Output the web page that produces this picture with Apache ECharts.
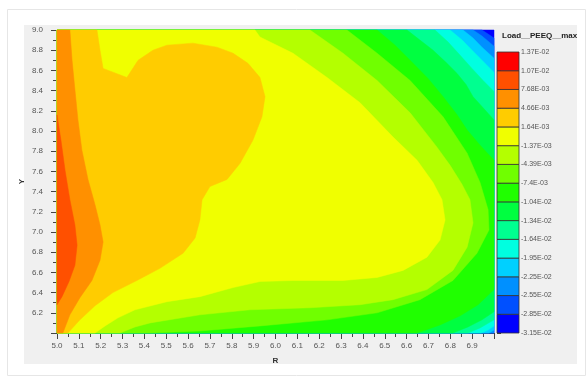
<!DOCTYPE html>
<html>
<head>
<meta charset="utf-8">
<script src="https://cdn.jsdelivr.net/npm/echarts@6/dist/echarts.min.js"></script>
<style>
  html, body { margin: 0; padding: 0; background: #fff; }
  #chart { width: 586px; height: 376px; }
</style>
</head>
<body>
<div id="chart"></div>
<script>
// plot window
const X_MIN = 5.0, X_MAX = 7.0, Y_MIN = 6.0, Y_MAX = 9.0

// colour scale, bottom (lowest) to top
const LEGEND_LABELS = ['1.37E-02', '1.07E-02', '7.68E-03', '4.66E-03', '1.64E-03', '-1.37E-03', '-4.39E-03',
  '-7.4E-03', '-1.04E-02', '-1.34E-02', '-1.64E-02', '-1.95E-02', '-2.25E-02', '-2.55E-02', '-2.85E-02', '-3.15E-02']
const LEVEL_COLORS = ['#0000ff', '#0050ff', '#0090ff', '#00d0ff', '#00ffe0', '#00ff90', '#00ff40', '#20ff00',
  '#70ff00', '#b4ff00', '#f0ff00', '#ffcc00', '#ff9000', '#ff5000', '#ff0000']

// contour edges (R, Y): edge of the region at or above each level
const LEVEL0_EDGE = [[7.0, 9.0]]
const LEVEL1_EDGE = [[6.945, 9.0], [6.973, 8.96], [7.0, 8.92]]
const LEVEL2_EDGE = [[6.904, 9.0], [6.945, 8.94], [7.0, 8.84]]
const LEVEL3_EDGE = [[6.858, 9.0], [6.904, 8.92], [6.945, 8.83], [7.0, 8.72],
  [7.0, 6.03], [6.977, 6.0]]
const LEVEL4_EDGE = [[6.799, 9.0], [6.854, 8.90], [6.904, 8.79], [6.954, 8.68], [7.0, 8.58],
  [7.0, 6.07], [6.973, 6.03], [6.941, 6.0]]
const LEVEL5_EDGE = [[6.730, 9.0], [6.790, 8.88], [6.845, 8.75], [6.899, 8.62], [6.950, 8.50], [7.0, 8.39],
  [7.0, 6.13], [6.936, 6.05], [6.881, 6.0]]
const LEVEL6_EDGE = [[6.602, 9.0], [6.661, 8.90], [6.721, 8.80], [6.780, 8.68], [6.831, 8.57], [6.872, 8.46],
  [6.904, 8.34], [6.950, 8.23], [7.0, 8.11],
  [7.0, 6.21], [6.945, 6.13], [6.881, 6.06], [6.812, 6.0]]
const LEVEL7_EDGE = [[6.465, 9.0], [6.547, 8.85], [6.616, 8.70], [6.698, 8.52], [6.767, 8.34], [6.831, 8.16],
  [6.877, 8.01], [6.936, 7.86], [7.0, 7.71],
  [7.0, 6.43], [6.927, 6.28], [6.845, 6.17], [6.753, 6.08], [6.648, 6.0]]
const LEVEL8_EDGE = [[6.327, 9.0], [6.465, 8.77], [6.616, 8.50], [6.767, 8.14], [6.877, 7.78], [6.936, 7.49],
  [6.973, 7.22], [6.977, 7.02], [6.922, 6.79], [6.812, 6.52], [6.661, 6.33], [6.465, 6.20], [6.236, 6.13],
  [5.929, 6.07], [5.654, 6.02], [5.426, 6.0]]
const LEVEL9_EDGE = [[6.158, 9.0], [6.309, 8.77], [6.465, 8.50], [6.616, 8.18], [6.739, 7.84], [6.799, 7.66],
  [6.854, 7.47], [6.890, 7.32], [6.904, 7.09], [6.877, 6.85], [6.812, 6.62], [6.693, 6.43], [6.538, 6.33],
  [6.387, 6.28], [6.158, 6.25], [5.883, 6.23], [5.654, 6.18], [5.426, 6.10], [5.357, 6.06], [5.288, 6.0]]
const LEVEL10_EDGE = [[5.906, 9.0], [5.929, 8.93], [6.080, 8.77], [6.236, 8.53], [6.387, 8.28], [6.538, 7.94],
  [6.648, 7.71], [6.721, 7.49], [6.762, 7.32], [6.776, 7.12], [6.753, 6.92], [6.693, 6.75], [6.584, 6.62],
  [6.465, 6.55], [6.309, 6.52], [6.080, 6.52], [5.929, 6.51], [5.806, 6.45], [5.654, 6.36], [5.503, 6.31],
  [5.357, 6.23], [5.279, 6.15], [5.220, 6.07], [5.174, 6.0]]
const LEVEL11_EDGE = [[5.183, 9.0], [5.197, 8.80], [5.211, 8.62], [5.320, 8.53], [5.371, 8.70], [5.439, 8.80],
  [5.503, 8.85], [5.622, 8.87], [5.732, 8.83], [5.806, 8.77], [5.874, 8.67], [5.929, 8.53], [5.952, 8.34],
  [5.938, 8.14], [5.897, 7.91], [5.838, 7.68], [5.778, 7.52], [5.700, 7.45], [5.664, 7.32], [5.654, 7.12],
  [5.632, 6.94], [5.577, 6.79], [5.471, 6.64], [5.366, 6.52], [5.256, 6.40], [5.174, 6.27], [5.105, 6.13],
  [5.050, 6.0]]
const LEVEL12_EDGE = [[5.059, 9.0], [5.069, 8.70], [5.082, 8.41], [5.096, 8.11], [5.114, 7.81], [5.142, 7.52],
  [5.174, 7.27], [5.197, 7.07], [5.211, 6.90], [5.197, 6.72], [5.160, 6.52], [5.105, 6.35], [5.059, 6.18],
  [5.027, 6.0]]
const LEVEL13_EDGE = [[5.0, 8.16], [5.018, 7.91], [5.037, 7.61], [5.059, 7.32], [5.082, 7.07], [5.092, 6.87],
  [5.082, 6.67], [5.055, 6.51], [5.023, 6.36], [5.0, 6.28]]

const EDGES = [LEVEL0_EDGE, LEVEL1_EDGE, LEVEL2_EDGE, LEVEL3_EDGE, LEVEL4_EDGE, LEVEL5_EDGE, LEVEL6_EDGE,
  LEVEL7_EDGE, LEVEL8_EDGE, LEVEL9_EDGE, LEVEL10_EDGE, LEVEL11_EDGE, LEVEL12_EDGE, LEVEL13_EDGE]

// close an edge against the plot border (region lies to the left / inside)
function closeRegion(pts) {
  const out = []
  const first = pts[0]
  const last = pts[pts.length - 1]
  if (first[1] === Y_MAX) out.push([X_MIN, Y_MAX])
  out.push(...pts)
  if (last[0] === X_MAX) out.push([X_MAX, Y_MIN])
  if (last[0] !== X_MIN) out.push([X_MIN, Y_MIN])
  return out
}
const REGIONS = EDGES.map(closeRegion)

const chart = echarts.init(document.getElementById('chart'), null, { renderer: 'canvas' })

const labelFont = { fontFamily: 'Liberation Sans, Arial, sans-serif', fontSize: 8, color: '#555' }

chart.setOption({
  animation: false,
  backgroundColor: '#ffffff',
  graphic: [
    { type: 'rect', left: 7, top: 9, shape: { width: 578, height: 366 }, style: { fill: '#fff', stroke: '#e6e6e6' }, z: -10 },
    { type: 'rect', left: 24, top: 25, shape: { width: 553, height: 339 }, style: { fill: '#f0f0f0' }, z: -9 }
  ],
  title: {
    text: 'Load__PEEQ__max',
    left: 497,
    top: 27,
    textStyle: { fontFamily: 'Liberation Sans, Arial, sans-serif', fontSize: 8, fontWeight: 'bold', color: '#222' }
  },
  grid: [
    { left: 57, top: 30, width: 437, height: 303 },
    { left: 497, top: 52, width: 22, height: 281 }
  ],
  xAxis: [
    {
      gridIndex: 0,
      type: 'value',
      min: X_MIN,
      max: X_MAX,
      interval: 0.1,
      name: 'R',
      nameLocation: 'middle',
      nameGap: 24,
      nameMoveOverlap: false,
      nameTextStyle: { fontFamily: 'Liberation Sans, Arial, sans-serif', fontSize: 8, fontWeight: 'bold', color: '#333' },
      axisLine: { lineStyle: { color: '#444', width: 1 } },
      axisTick: { length: 6, lineStyle: { color: '#444' } },
      minorTick: { show: true, splitNumber: 2, length: 4, lineStyle: { color: '#444' } },
      splitLine: { show: false },
      axisLabel: Object.assign({ margin: 9, formatter: v => (v >= X_MAX - 1e-9 ? '' : v.toFixed(1)) }, labelFont)
    },
    { gridIndex: 1, type: 'value', min: 0, max: 1, show: false }
  ],
  yAxis: [
    {
      gridIndex: 0,
      type: 'value',
      min: Y_MIN,
      max: Y_MAX,
      interval: 0.2,
      name: 'Y',
      nameLocation: 'middle',
      nameGap: 31,
      nameMoveOverlap: false,
      nameTextStyle: { fontFamily: 'Liberation Sans, Arial, sans-serif', fontSize: 8, fontWeight: 'bold', color: '#333' },
      axisLine: { show: true, lineStyle: { color: '#444', width: 1 } },
      axisTick: { show: true, length: 6, lineStyle: { color: '#444' } },
      minorTick: { show: true, splitNumber: 2, length: 4, lineStyle: { color: '#444' } },
      splitLine: { show: false },
      axisLabel: Object.assign({ margin: 14, formatter: v => (v <= Y_MIN + 1e-9 ? '' : v.toFixed(1)) }, labelFont)
    },
    {
      gridIndex: 1,
      type: 'value',
      position: 'right',
      min: 0,
      max: 15,
      interval: 1,
      axisLine: { show: false },
      axisTick: { show: true, length: 4, lineStyle: { color: '#444' } },
      splitLine: { show: false },
      axisLabel: Object.assign({ margin: 2, formatter: v => LEGEND_LABELS[15 - v] }, labelFont, { fontSize: 7 })
    }
  ],
  series: [
    {
      type: 'custom',
      xAxisIndex: 0,
      yAxisIndex: 0,
      encode: { x: 0, y: 1 },
      data: REGIONS.map((r, k) => [X_MIN, Y_MIN, k]),
      renderItem: (params, api) => {
        const k = api.value(2)
        return {
          type: 'polygon',
          shape: { points: REGIONS[k].map(p => api.coord(p)) },
          style: { fill: LEVEL_COLORS[k], stroke: LEVEL_COLORS[k], lineWidth: 0.5 }
        }
      }
    },
    {
      type: 'custom',
      xAxisIndex: 1,
      yAxisIndex: 1,
      encode: { x: 0, y: 1 },
      data: LEVEL_COLORS.map((c, k) => [0, k]),
      renderItem: (params, api) => {
        const k = api.value(1)
        const p0 = api.coord([0, k])
        const p1 = api.coord([1, k + 1])
        return {
          type: 'rect',
          shape: { x: p0[0], y: p1[1], width: p1[0] - p0[0], height: p0[1] - p1[1] },
          style: { fill: LEVEL_COLORS[k], stroke: '#333', lineWidth: 0.8 }
        }
      }
    }
  ]
})
</script>
</body>
</html>
